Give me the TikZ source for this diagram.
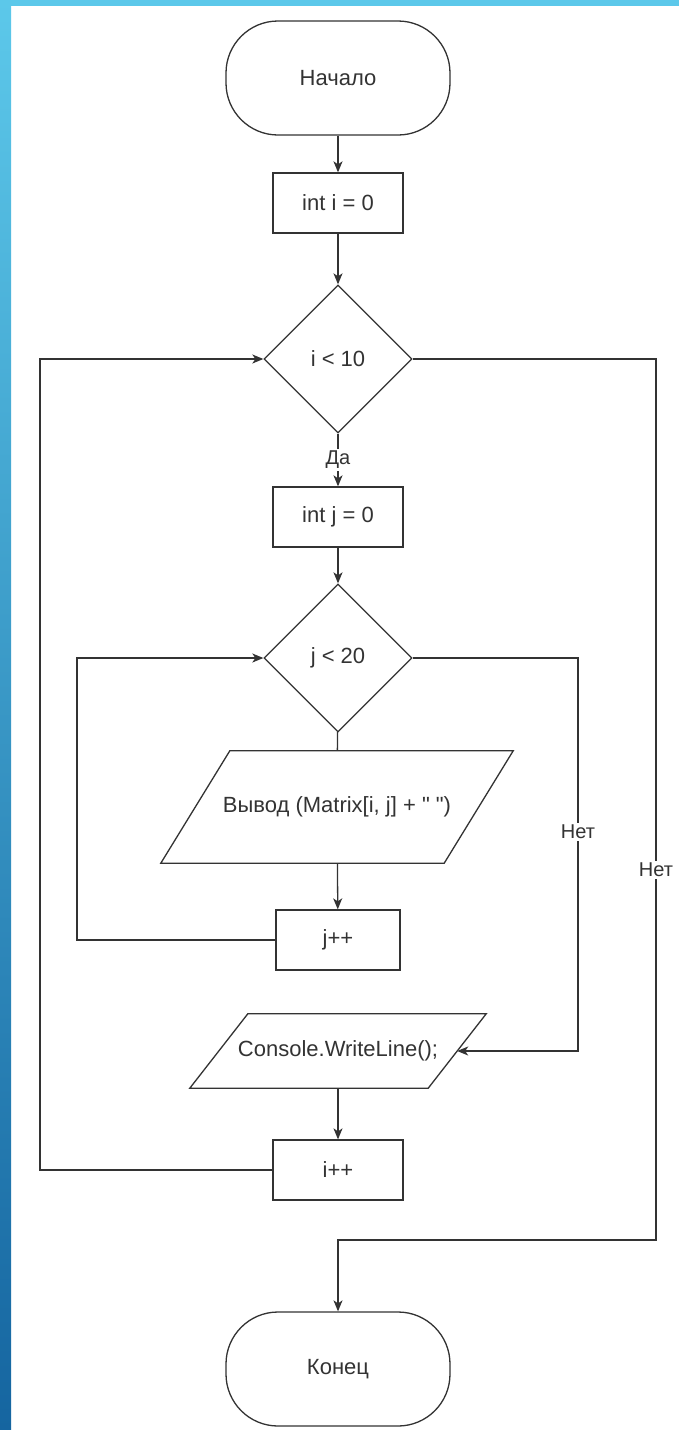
\documentclass[tikz,border=0pt]{standalone}
\usepackage{fontspec}
\newfontfamily\flowfont{Liberation Sans}
\usepackage{tikz}
\usetikzlibrary{positioning,arrows.meta,shapes.geometric}

\definecolor{edgeLight}{HTML}{5CC8EA}
\definecolor{edgeDark}{HTML}{1565A0}
\definecolor{ink}{HTML}{333333}

\begin{document}
\begin{tikzpicture}[
    x=1pt, y=-1pt,
    font=\flowfont\fontsize{22}{26}\selectfont,
    >={Stealth[length=11pt,width=9pt,inset=3pt]},
    term/.style = {draw=ink, line width=1.3pt, rounded corners=52pt,
                   minimum width=224pt, minimum height=114pt, text=ink},
    proc/.style = {draw=ink, line width=1.3pt, minimum width=130pt,
                   minimum height=60pt, text=ink},
    cond/.style = {diamond, draw=ink, line width=1.3pt, minimum width=148pt,
                   minimum height=148pt, inner sep=0pt, text=ink},
    iobox/.style= {inner sep=0pt, text=ink},
    flow/.style = {draw=ink, line width=1.3pt},
    lbl/.style  = {font=\flowfont\fontsize{20}{24}\selectfont, fill=white,
                   inner sep=2pt, text=ink},
]
\useasboundingbox (0,0) rectangle (679,1430);

% ============ frame ============
\fill[white] (0,0) rectangle (679,1430);
\shade[top color=edgeLight, bottom color=edgeDark] (0,0) rectangle (11,1430);
\fill[edgeLight] (0,0) rectangle (679,6);

% ============ blocks ============
\node[term] (start) at (338,78)  {Начало};
\node[proc] (initI) at (338,203) {int i = 0};
\node[cond] (condI) at (338,359) {i < 10};
\node[proc] (initJ) at (338,517) {int j = 0};
\node[cond] (condJ) at (338,658) {j < 20};
\node[iobox, minimum width=283pt, minimum height=112pt]
      (outM) at (337,807) {Вывод (Matrix[i, j] + " ")};
\node[proc, minimum width=124pt] (incJ) at (338,940) {j++};
\node[iobox, minimum width=238pt, minimum height=74pt]
      (outLine) at (338,1051) {Console.WriteLine();};
\node[proc] (incI) at (338,1170) {i++};
\node[term] (stop) at (338,1369) {Конец};

% slanted outlines of the two output blocks
\draw[flow] ([xshift=-34.5pt]outM.south west) -- ([xshift=34.5pt]outM.north west)
  -- ([xshift=34.5pt]outM.north east) -- ([xshift=-34.5pt]outM.south east) -- cycle;
\draw[flow] ([xshift=-29pt]outLine.south west) -- ([xshift=29pt]outLine.north west)
  -- ([xshift=29pt]outLine.north east) -- ([xshift=-29pt]outLine.south east) -- cycle;

% loop corners
\coordinate (iL) at (40,0);
\coordinate (jL) at (77,0);
\coordinate (exitI) at (656,1240);
\coordinate (exitJ) at (578,1051);

% ============ main line ============
\draw[flow,->] (start) -- (initI);
\draw[flow,->] (initI) -- (condI);
\draw[flow,->] (condI) -- node[lbl]{Да} (initJ);
\draw[flow,->] (initJ) -- (condJ);
\draw[flow] (condJ) -- (outM);
\draw[flow,->] (outM) -- (incJ);
\draw[flow,->] (outLine) -- (incI);

% ============ inner loop: j ============
\draw[flow,->] (incJ.west) -- (incJ.west -| jL) |- (condJ.west);
\draw[flow,->] (condJ.east) -| (exitJ) -- (outLine.east);
\node[lbl] (noJ) at (578,832) {Нет};

% ============ outer loop: i ============
\draw[flow,->] (incI.west) -- (incI.west -| iL) |- (condI.west);
\draw[flow,->] (condI.east) -| (exitI) -| (stop.north);
\node[lbl] (noI) at (656,870) {Нет};

\end{tikzpicture}
\end{document}
